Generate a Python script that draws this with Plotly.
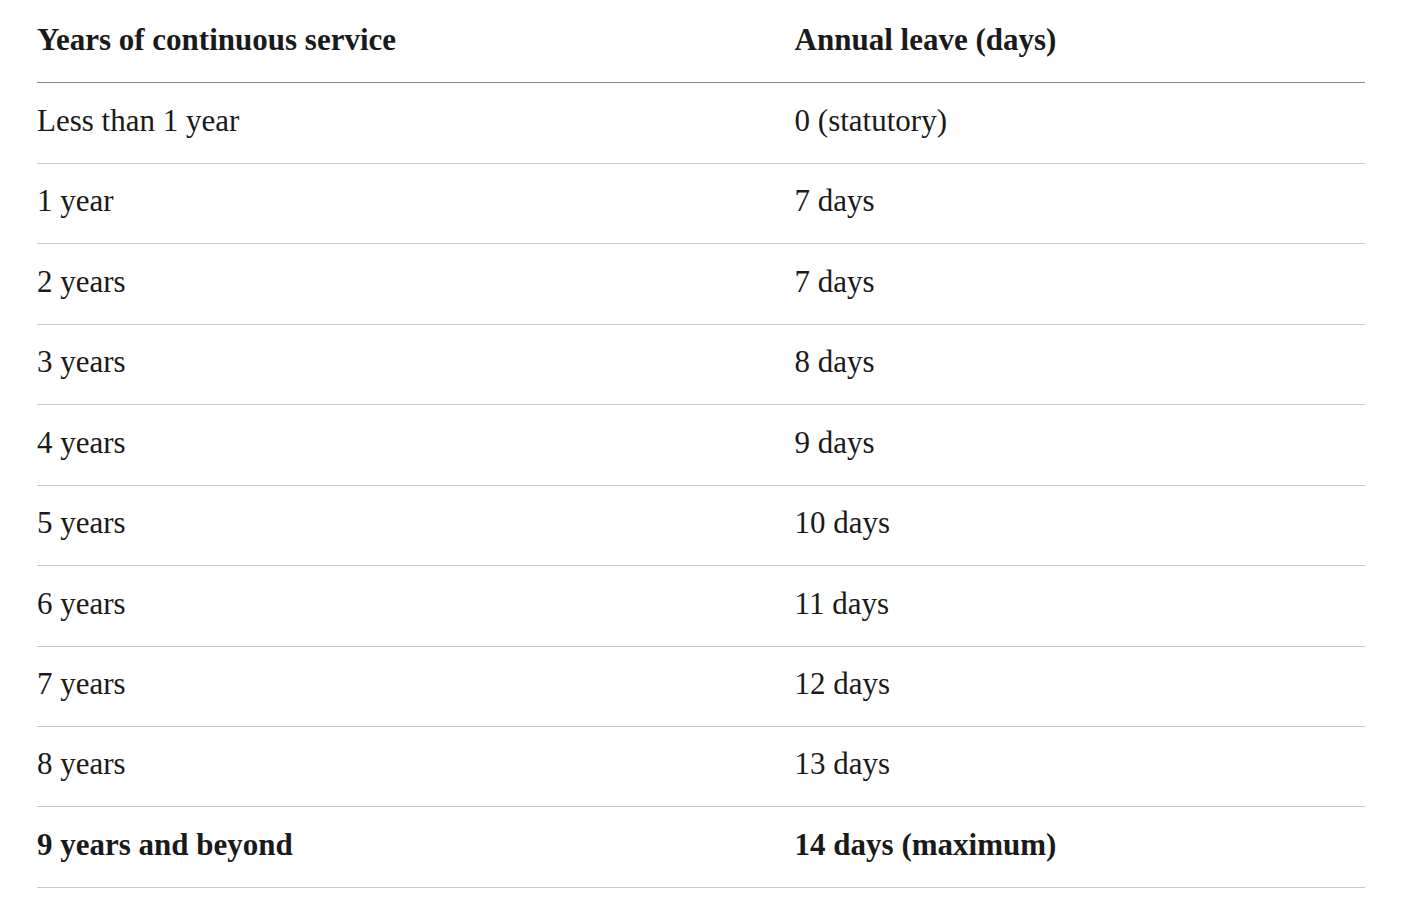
import plotly.graph_objects as go

header = ["Years of continuous service", "Annual leave (days)"]
service = ["Less than 1 year", "1 year", "2 years", "3 years", "4 years", "5 years",
           "6 years", "7 years", "8 years", "9 years and beyond"]
leave = ["0 (statutory)", "7 days", "7 days", "8 days", "9 days", "10 days",
         "11 days", "12 days", "13 days", "14 days (maximum)"]
bold_rows = [9]

col_x = [0.0, 0.5705]
n = len(service)
ys = [-0.5] + [i + 0.5 for i in range(n)]

def fmt(t, b):
    return f"<b>{t}</b>" if b else t

col1 = [fmt(header[0], True)] + [fmt(s, i in bold_rows) for i, s in enumerate(service)]
col2 = [fmt(header[1], True)] + [fmt(s, i in bold_rows) for i, s in enumerate(leave)]

fig = go.Figure()
for x, texts in zip(col_x, [col1, col2]):
    fig.add_trace(go.Scatter(x=[x] * len(texts), y=ys, text=texts, mode="text",
                             textposition="middle right",
                             textfont=dict(family="Liberation Serif", size=31, color="#1a1a1a"),
                             hoverinfo="skip", showlegend=False, cliponaxis=False))

fig.update_layout(
    width=1408, height=920, paper_bgcolor="white", plot_bgcolor="white",
    margin=dict(l=29, r=51, t=0, b=39),
    xaxis=dict(range=[0, 1], visible=False, fixedrange=True),
    yaxis=dict(range=[n + 0.02, -0.93], tickvals=list(range(1, n + 1)), showticklabels=False,
               showgrid=True, gridcolor="#c8c8c8", gridwidth=1,
               zeroline=True, zerolinecolor="#8a8a8a", zerolinewidth=1, showline=False),
)
fig.write_html("out.html")
